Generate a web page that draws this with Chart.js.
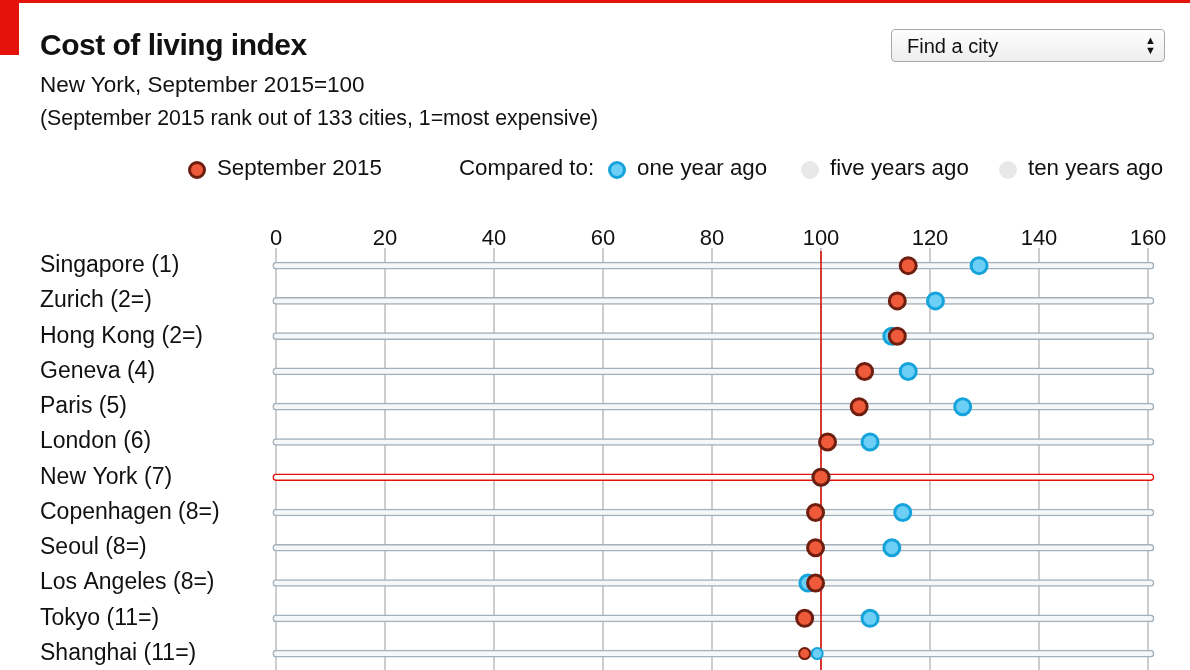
<!DOCTYPE html>
<html lang="en">
<head>
    <meta charset="UTF-8">
    <title>Cost of living index</title>
    <script src="https://cdn.jsdelivr.net/npm/chart.js"></script>
    <style>
        html, body { margin: 0; padding: 0; background: #fff; overflow: hidden; }
        body { width: 1190px; height: 670px; position: relative; font-family: "Liberation Sans", Arial, sans-serif; color: #111; }
        #chart { position: absolute; left: 0; top: 0; }
        .topbar { position: absolute; left: 0; top: 0; width: 1190px; height: 3px; background: #e3120b; }
        .corner { position: absolute; left: 0; top: 0; width: 19px; height: 55px; background: #e3120b; }
        .title { position: absolute; left: 40px; top: 27px; font-size: 30px; font-weight: bold; line-height: 36px; letter-spacing: -0.5px; }
        .sub { position: absolute; left: 40px; top: 72px; font-size: 22.5px; line-height: 26px; }
        .note { position: absolute; left: 40px; top: 105px; font-size: 21.3px; line-height: 26px; }
        .finder { position: absolute; left: 891px; top: 29px; width: 274px; height: 33px; box-sizing: border-box;
                  border: 1px solid #a8a8a8; border-radius: 4px; background: linear-gradient(#fdfdfd, #eeeeee); }
        .finder select { appearance: none; -webkit-appearance: none; border: 0; background: transparent; width: 100%; height: 100%;
                  font-family: "Liberation Sans", Arial, sans-serif; font-size: 20px; color: #111; padding: 0 0 0 15px; margin: 0; outline: none; }
        .finder .arrows { position: absolute; right: 8px; top: 5px; font-size: 11px; line-height: 10px; color: #111; pointer-events: none; }
        .legend { position: absolute; top: 155px; left: 0; height: 26px; font-size: 22.3px; line-height: 26px; }
        .legend span { position: absolute; white-space: nowrap; }
        .dot { width: 12px; height: 12px; border-radius: 50%; top: 6px; }
        .dot.red { background: #ef5a3a; border: 3px solid #6e1e0f; }
        .dot.blue { background: #6dcff5; border: 3px solid #14a3db; }
        .dot.grey { background: #e8e8e8; border: 3px solid #e8e8e8; }
    </style>
</head>
<body>
    <canvas id="chart" width="1190" height="685"></canvas>
    <div class="topbar"></div>
    <div class="corner"></div>
    <div class="title">Cost of living index</div>
    <div class="sub">New York, September 2015=100</div>
    <div class="note">(September 2015 rank out of 133 cities, 1=most expensive)</div>
    <div class="finder">
        <select><option>Find a city</option></select>
        <div class="arrows">&#9650;<br>&#9660;</div>
    </div>
    <div class="legend">
        <span class="dot red" style="left:188px"></span>
        <span style="left:217px">September 2015</span>
        <span style="left:459px">Compared to:</span>
        <span class="dot blue" style="left:608px"></span>
        <span style="left:637px">one year ago</span>
        <span class="dot grey" style="left:801px"></span>
        <span style="left:830px">five years ago</span>
        <span class="dot grey" style="left:999px"></span>
        <span style="left:1028px">ten years ago</span>
    </div>

    <script>
        // Data
        const cities = ['Singapore (1)', 'Zurich (2=)', 'Hong Kong (2=)', 'Geneva (4)', 'Paris (5)', 'London (6)',
            'New York (7)', 'Copenhagen (8=)', 'Seoul (8=)', 'Los Angeles (8=)', 'Tokyo (11=)', 'Shanghai (11=)'];
        const sept2015 = [116, 114, 114, 108, 107, 101.2, 100, 99, 99, 99, 97, 97];
        const oneYearAgo = [129, 121, 113, 116, 126, 109, 100, 115, 113, 97.6, 109, 99.3];
        const xTicks = [0, 20, 40, 60, 80, 100, 120, 140, 160];
        const rowSpan = [-0.6, 161.1];
        const baseValue = 100;
        const baseCity = 'New York (7)';

        const RED = '#e3120b';
        const lastRow = cities.length - 1;

        // red line at the New York level, drawn over the row tracks but under the dots
        const baseLinePlugin = {
            id: 'baseLine',
            afterDatasetDraw(chart, args) {
                if (args.index !== 0) return;
                const { ctx, chartArea } = chart;
                const x = chart.scales.x.getPixelForValue(baseValue);
                ctx.save();
                ctx.strokeStyle = '#d9140c';
                ctx.lineWidth = 1.6;
                ctx.beginPath();
                ctx.moveTo(x, chartArea.top + 3);
                ctx.lineTo(x, chartArea.bottom);
                ctx.stroke();
                ctx.restore();
            }
        };

        const ctx = document.getElementById('chart').getContext('2d');
        new Chart(ctx, {
            type: 'bar',
            data: {
                labels: cities,
                datasets: [{
                    type: 'bar',
                    data: cities.map(() => rowSpan),
                    backgroundColor: cities.map(c => c === baseCity ? '#ffffff' : '#f5f7f8'),
                    borderColor: cities.map(c => c === baseCity ? RED : '#a2b1bb'),
                    borderWidth: 1.5,
                    borderRadius: 4,
                    borderSkipped: false,
                    barThickness: 7,
                    clip: false,
                    order: 3
                }, {
                    type: 'line',
                    label: 'one year ago',
                    data: cities.map((c, i) => ({ x: oneYearAgo[i], y: c })),
                    showLine: false,
                    pointRadius: c => c.dataIndex === lastRow ? 5.5 : 8,
                    pointBorderWidth: c => c.dataIndex === lastRow ? 2 : 3,
                    pointBackgroundColor: '#6dcff5',
                    pointBorderColor: '#14a3db',
                    clip: false,
                    order: 2
                }, {
                    type: 'line',
                    label: 'September 2015',
                    data: cities.map((c, i) => ({ x: sept2015[i], y: c })),
                    showLine: false,
                    pointRadius: c => c.dataIndex === lastRow ? 5.5 : 8,
                    pointBorderWidth: c => c.dataIndex === lastRow ? 2 : 3,
                    pointBackgroundColor: '#ef5a3a',
                    pointBorderColor: '#6e1e0f',
                    clip: false,
                    order: 1
                }]
            },
            options: {
                indexAxis: 'y',
                responsive: false,
                animation: false,
                layout: { padding: { left: 40, right: 42, top: 0, bottom: 2 } },
                plugins: {
                    legend: { display: false },
                    tooltip: { enabled: false }
                },
                scales: {
                    x: {
                        type: 'linear',
                        position: 'top',
                        min: xTicks[0],
                        max: xTicks[xTicks.length - 1],
                        afterBuildTicks: s => { s.ticks = xTicks.map(v => ({ value: v })); },
                        afterFit: s => { s.height = 248; },
                        ticks: {
                            color: '#111',
                            padding: -4,
                            font: { family: 'Liberation Sans', size: 22 }
                        },
                        grid: { color: '#cdcdcd', lineWidth: 2, drawTicks: false },
                        border: { display: false }
                    },
                    y: {
                        type: 'category',
                        afterFit: s => { s.width = 236; },
                        ticks: {
                            crossAlign: 'far',
                            color: '#111',
                            padding: 0,
                            font: { family: 'Liberation Sans', size: 23 }
                        },
                        grid: { display: false },
                        border: { display: false }
                    }
                }
            },
            plugins: [baseLinePlugin]
        });
    </script>
</body>
</html>
